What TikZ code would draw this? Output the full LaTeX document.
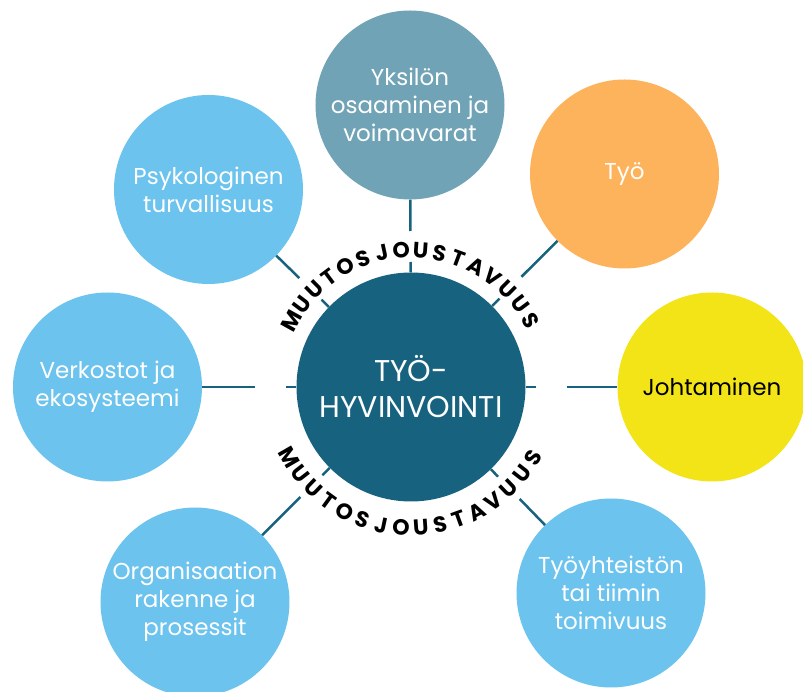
\documentclass[tikz,border=0pt]{standalone}
\usepackage{fontspec}
\setmainfont{Poppins}
\newfontfamily\ringfont{Poppins}[UprightFont=* Bold]
\usetikzlibrary{positioning, calc}

\definecolor{hubteal}{HTML}{17637F}
\definecolor{greyteal}{HTML}{6FA3B5}
\definecolor{softorange}{HTML}{FDB35C}
\definecolor{brightyellow}{HTML}{F2E417}
\definecolor{skyblue}{HTML}{6BC3EE}

\begin{document}
\begin{tikzpicture} [x=1pt, y=1pt,
    topic/.style = {circle, minimum size=189pt, inner sep=0pt, align=center,
        text=white, font=\fontsize{23}{28}\selectfont},
    hub/.style = {circle, minimum size=229pt, inner sep=0pt, fill=hubteal,
        text=white, align=center, font=\fontsize{30}{36}\selectfont},
    link/.style = {draw=hubteal, line width=2.5pt},
    ringletter/.style = {inner sep=0pt, anchor=center,
        font=\ringfont\fontsize{22}{22}\selectfont}]
    \useasboundingbox (-411,-305) rectangle (392,387);
    % centre
    \node (hub) [hub] at (0,0) {TYÖ-\\HYVINVOINTI};
    % surrounding topics
    \node (yksilo) [topic, fill=greyteal] at (-1,282)
        {Yksilön\\osaaminen ja\\voimavarat};
    \node (tyo) [topic, fill=softorange] at (213.5,213) {Työ};
    \node (johto) [topic, fill=brightyellow, text=black] at (301,0)
        {Johtaminen};
    \node (tiimi) [topic, fill=skyblue] at (200,-206)
        {Työyhteistön\\tai tiimin\\toimivuus};
    \node (organisaatio) [topic, fill=skyblue] at (-216,-215)
        {Organisaation\\rakenne ja\\prosessit};
    \node (verkosto) [topic, fill=skyblue] at (-303.5,0)
        {Verkostot ja\\ekosysteemi};
    \node (psyko) [topic, fill=skyblue] at (-202.5,197.5)
        {Psykologinen\\turvallisuus};

    % connectors, broken where the ring text runs
    \foreach \n in {yksilo, tyo, johto, tiimi, organisaatio, verkosto, psyko} {
        \coordinate (\n-out) at ($(hub)!156pt!(\n)$);
        \coordinate (\n-in) at ($(hub)!125pt!(\n)$);
        \draw [link] (\n) -- (\n-out);
        \draw [link] (\n-in) -- (hub);
    }

    % ring text, one letter at a time
    \foreach \l [count=\i, evaluate=\i as \a using 151-(\i-1)*122/15]
            in {M,U,U,T,O,S,J,O,U,S,T,A,V,U,U,S} {
        \node (top-\i) [ringletter, rotate=\a-90] at (\a:137) {\l};
    }
    \foreach \l [count=\i, evaluate=\i as \a using 210+(\i-1)*120/15]
            in {M,U,U,T,O,S,J,O,U,S,T,A,V,U,U,S} {
        \node (bottom-\i) [ringletter, rotate=\a+90] at (\a:141) {\l};
    }
\end{tikzpicture}
\end{document}
